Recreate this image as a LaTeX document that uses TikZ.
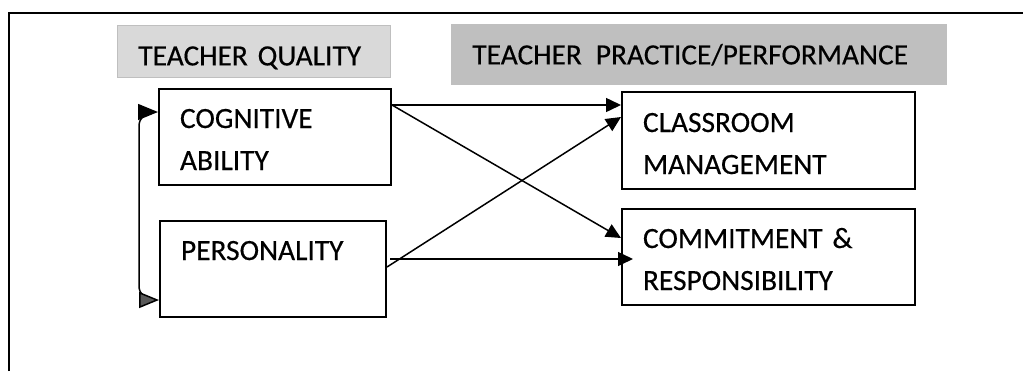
\documentclass[tikz,border=0pt]{standalone}
\usepackage{fontspec}
\setmainfont{Carlito}[FakeBold=0.4]
\usetikzlibrary{arrows.meta,calc}

\begin{document}
\begin{tikzpicture}[x=0.5pt,y=-0.5pt,
		font=\fontsize{14.7}{21}\selectfont,
		box/.style={draw,line width=1pt,anchor=north west,align=left,inner xsep=10.5pt,inner ysep=0pt,text height=19.5pt,text depth=28.5pt},
		head/.style={anchor=north west,align=left,inner xsep=10.5pt,inner ysep=0pt,text height=20pt},
		link/.style={line width=0.75pt,-{Triangle[length=7.5pt,width=7pt]}}]
		\useasboundingbox (0,0) rectangle (1023,371);
		\draw[line width=1pt] (9,371) -- (9,13) -- (1023,13);
		
		\node[head,fill=black!15,draw=black!25,text width=115.5pt,text depth=6pt] (hq) at (117,25) {TEACHER QUALITY};
		\node[head,fill=black!25,text width=227pt,text depth=10.5pt] (hp) at (451,24) {TEACHER\hspace{7pt}PRACTICE/PERFORMANCE};
		
		\node[box,text width=95pt] (cog) at (158,88) {COGNITIVE\\ABILITY};
		\node[box,text width=92pt] (pers) at (159,220) {PERSONALITY};
		\node[box,text width=125.5pt,text height=20pt] (class) at (621,91) {CLASSROOM\\MANAGEMENT};
		\node[box,text width=125.5pt] (commit) at (621,208) {COMMITMENT \&\\RESPONSIBILITY};
		
		\draw[link] ($(cog.north east)+(0,17)$) -- ($(class.north west)+(0,14)$);
		\draw[link] ($(cog.north east)+(0,17)$) -- ($(commit.north west)+(0,30)$);
		\draw[link] ($(pers.north east)+(0,47)$) -- ($(class.north west)+(0,26)$);
		\draw[link] ($(pers.north east)+(3,39)$) -- ($(commit.north west)+(12,51)$);
		\draw[line width=0.75pt,rounded corners=7pt,{Triangle[length=10pt,width=8pt]}-{Triangle[length=10pt,width=8pt,fill=black!65]}]
			($(cog.north west)+(0,24)$) -- ++(-19,0) |- ($(pers.south west)+(0,-18)$);
	\end{tikzpicture}
\end{document}
